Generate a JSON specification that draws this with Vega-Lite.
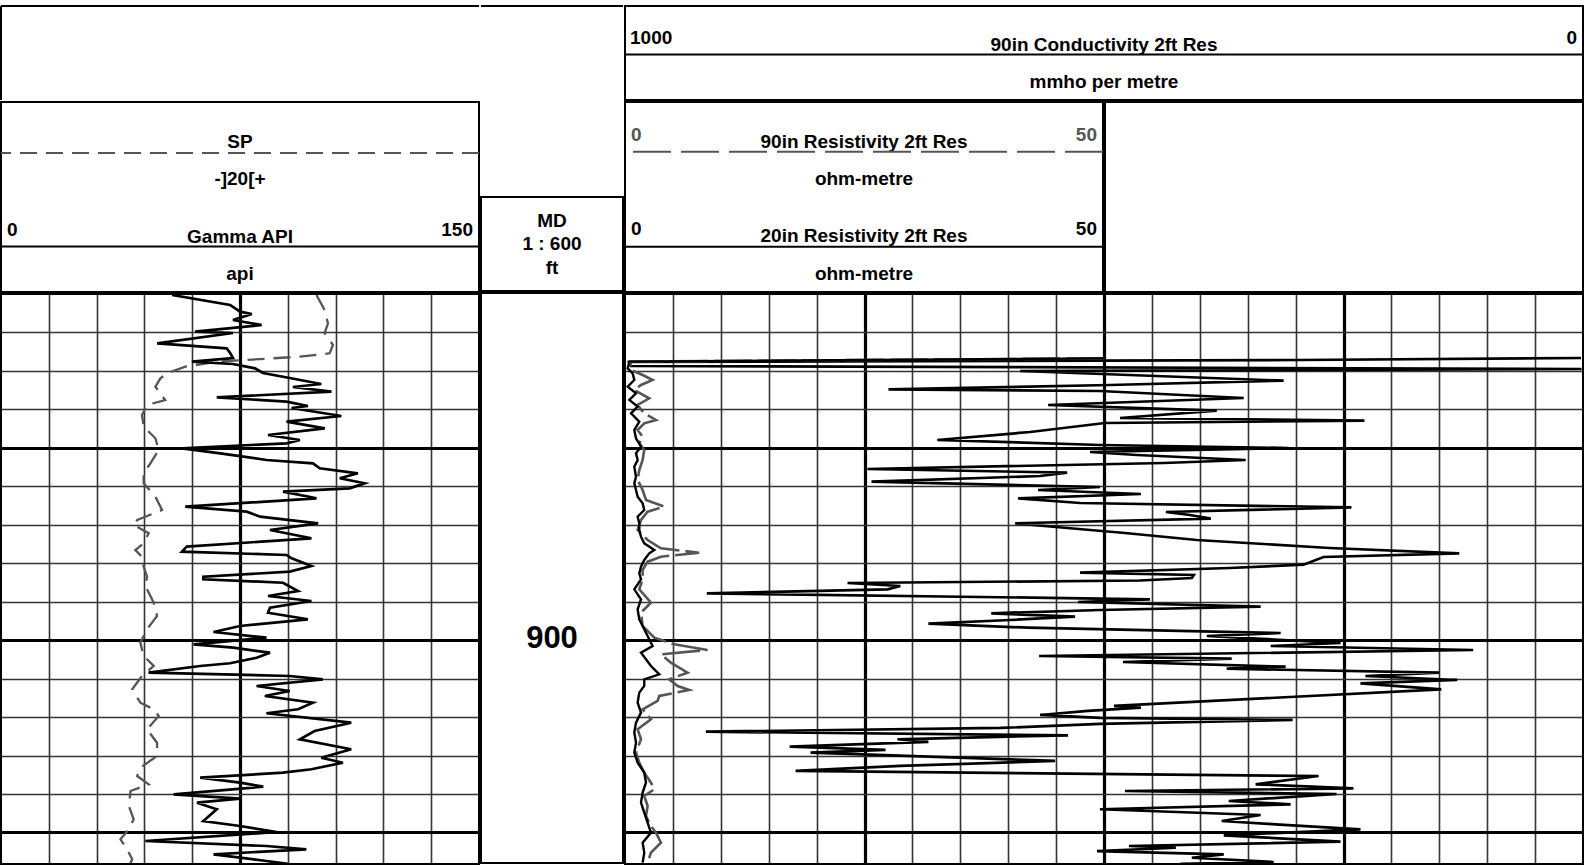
{
"$schema": "https://vega.github.io/schema/vega-lite/v6.json",
"padding": {"left": 0, "top": 5, "right": 0, "bottom": 0},
"spacing": 0,
"config": {
  "view": {"stroke": null},
  "concat": {"spacing": 0},
  "text": {"font": "Liberation Sans", "fontWeight": "bold", "fontSize": 19, "color": "black"},
  "axis": {"minExtent": 0, "labels": false, "ticks": false, "domain": false, "title": null}
},
"datasets": {
"gr": [{"d":810.26,"v":53.7},{"d":812.86,"v":71.9},{"d":814.6,"v":75},{"d":815.2,"v":78.7},{"d":816.76,"v":72.8},{"d":818.06,"v":81.8},{"d":819.8,"v":60.9},{"d":820.14,"v":72.8},{"d":822.82,"v":49},{"d":824.12,"v":70.8},{"d":825.34,"v":71.9},{"d":826.64,"v":72.8},{"d":827.6,"v":59.9},{"d":828.2,"v":72.8},{"d":829.32,"v":79.7},{"d":830.54,"v":82.2},{"d":831.84,"v":90.6},{"d":833.4,"v":100.5},{"d":834.18,"v":91.6},{"d":835.4,"v":103.7},{"d":836.86,"v":67.7},{"d":838,"v":89.6},{"d":839.12,"v":96.3},{"d":839.64,"v":91.2},{"d":841.72,"v":106.8},{"d":843.2,"v":89.6},{"d":844.92,"v":101.6},{"d":846.66,"v":83.8},{"d":847.96,"v":93.8},{"d":848.82,"v":89.6},{"d":850.12,"v":56.8},{"d":851.42,"v":68.8},{"d":853.16,"v":83.3},{"d":854.02,"v":97.9},{"d":855.32,"v":100},{"d":856.62,"v":112},{"d":857.92,"v":106.3},{"d":859.22,"v":114.1},{"d":860.52,"v":109.4},{"d":861.4,"v":88.5},{"d":863.12,"v":99},{"d":865.3,"v":57.8},{"d":866.6,"v":77.1},{"d":867.9,"v":81.3},{"d":869.62,"v":99.5},{"d":871.36,"v":84.4},{"d":873.52,"v":97.4},{"d":875.7,"v":58.3},{"d":877,"v":56.8},{"d":877.86,"v":89.6},{"d":878.72,"v":91.2},{"d":880.72,"v":97.4},{"d":882.2,"v":90.6},{"d":883.5,"v":63.5},{"d":884.18,"v":63.5},{"d":885.07,"v":88.5},{"d":887.22,"v":93.2},{"d":888.52,"v":83.8},{"d":889.82,"v":97.4},{"d":891.57,"v":84.4},{"d":892.87,"v":83.8},{"d":894.58,"v":96.3},{"d":896.32,"v":75},{"d":897.88,"v":66.7},{"d":899.37,"v":83.3},{"d":901.08,"v":60.4},{"d":901.97,"v":72.9},{"d":903.27,"v":84.4},{"d":904.57,"v":80.2},{"d":906.02,"v":71.9},{"d":906.72,"v":62.5},{"d":908.47,"v":46.3},{"d":909.32,"v":90.6},{"d":910.18,"v":101},{"d":911.92,"v":80.2},{"d":913.22,"v":90.6},{"d":914.52,"v":82.8},{"d":916.27,"v":97.9},{"d":917.98,"v":93.2},{"d":919.02,"v":83.3},{"d":921.47,"v":109.9},{"d":923.63,"v":98.4},{"d":925.78,"v":93.8},{"d":928.38,"v":109.9},{"d":930.57,"v":100.5},{"d":931.87,"v":107.3},{"d":933.58,"v":97.4},{"d":934.47,"v":88.5},{"d":935.77,"v":62.5},{"d":937.07,"v":75},{"d":938.11,"v":82.3},{"d":940.09,"v":54.2},{"d":941.23,"v":75},{"d":942.27,"v":61.5},{"d":943.99,"v":67.7},{"d":947.03,"v":63.5},{"d":948.33,"v":75},{"d":949.89,"v":86.5},{"d":952.23,"v":45.3},{"d":953.53,"v":83.3},{"d":954.39,"v":95.8},{"d":955.69,"v":66.7},{"d":957.43,"v":83.3},{"d":958.2,"v":90}],
"sp": [{"d":810.26,"v":-28},{"d":814.16,"v":-24.6},{"d":817.62,"v":-23.2},{"d":820.22,"v":-24.6},{"d":823.26,"v":-21.1},{"d":825.42,"v":-22.5},{"d":826.3,"v":-35},{"d":827.6,"v":-69.7},{"d":828.9,"v":-82.9},{"d":830.62,"v":-90.5},{"d":831.92,"v":-93.3},{"d":834.1,"v":-95.4},{"d":837.56,"v":-91.3},{"d":838.86,"v":-98.9},{"d":841.46,"v":-101},{"d":844.5,"v":-100.3},{"d":847.52,"v":-95.4},{"d":850.56,"v":-94},{"d":854.02,"v":-97.5},{"d":856.62,"v":-100.3},{"d":859.22,"v":-100.3},{"d":862.7,"v":-95.4},{"d":866.16,"v":-92.6},{"d":868.76,"v":-103},{"d":870.06,"v":-104.5},{"d":872.22,"v":-98.2},{"d":874.82,"v":-100.3},{"d":876.56,"v":-103.8},{"d":878.3,"v":-101},{"d":880.9,"v":-100.3},{"d":883.5,"v":-98.9},{"d":885.92,"v":-99.6},{"d":890.26,"v":-96.1},{"d":893.72,"v":-94.7},{"d":897.18,"v":-98.9},{"d":900.67,"v":-101.7},{"d":904.12,"v":-100.3},{"d":906.72,"v":-96.1},{"d":909.32,"v":-101},{"d":912.78,"v":-105.1},{"d":916.27,"v":-101.7},{"d":917.98,"v":-96.1},{"d":919.72,"v":-94},{"d":923.19,"v":-98.9},{"d":926.67,"v":-94.7},{"d":930.12,"v":-94.7},{"d":933.17,"v":-101.7},{"d":935.33,"v":-103},{"d":937.49,"v":-98.2},{"d":939.23,"v":-105.8},{"d":943.13,"v":-106.5},{"d":946.59,"v":-104.5},{"d":949.19,"v":-106.5},{"d":951.79,"v":-110},{"d":954.39,"v":-107.2},{"d":956.99,"v":-105.1},{"d":958.2,"v":-106}],
"cond": [{"d":826.64,"v":2.1},{"d":827.16,"v":295.8},{"d":827.68,"v":995.8},{"d":828.72,"v":993.8},{"d":829.5,"v":1.5},{"d":830.02,"v":587.5},{"d":832.54,"v":312.5},{"d":833.66,"v":493.8},{"d":834.78,"v":725},{"d":835.22,"v":504.2},{"d":837.04,"v":354.2},{"d":838.86,"v":558.3},{"d":840.34,"v":382.3},{"d":842.24,"v":483.3},{"d":842.94,"v":228.1},{"d":843.54,"v":499},{"d":845.88,"v":577.1},{"d":847.96,"v":674},{"d":849.26,"v":504.2},{"d":850.04,"v":307.3},{"d":851.08,"v":514.6},{"d":851.86,"v":465.6},{"d":853.16,"v":352.1},{"d":853.94,"v":437.5},{"d":855.5,"v":746.9},{"d":856.46,"v":538.5},{"d":857.32,"v":566.7},{"d":858.8,"v":742.7},{"d":860.18,"v":504.2},{"d":860.96,"v":568.8},{"d":862,"v":461.5},{"d":863.12,"v":589.6},{"d":864.34,"v":525},{"d":865.46,"v":241.7},{"d":866.68,"v":435.4},{"d":867.46,"v":410.4},{"d":868.42,"v":388.5},{"d":869.62,"v":592.7},{"d":870.84,"v":538.5},{"d":872.14,"v":478.1},{"d":873.96,"v":403.1},{"d":876.04,"v":264.6},{"d":877.42,"v":129.2},{"d":878.38,"v":270.8},{"d":880.38,"v":291.7},{"d":881.24,"v":368.8},{"d":882.46,"v":525},{"d":883.06,"v":406.3},{"d":883.84,"v":408.3},{"d":884.49,"v":462.5},{"d":885.14,"v":767.7},{"d":885.92,"v":712.5},{"d":886.78,"v":726},{"d":887.82,"v":914.6},{"d":889.38,"v":452.1},{"d":890.08,"v":527.1},{"d":891.31,"v":336.5},{"d":892.16,"v":504.2},{"d":893.02,"v":617.7},{"d":893.9,"v":530.2},{"d":894.76,"v":597.9},{"d":895.72,"v":683.3},{"d":896.77,"v":579.2},{"d":898.14,"v":315.6},{"d":898.92,"v":392.7},{"d":900.74,"v":253.1},{"d":901.52,"v":326},{"d":902.56,"v":114.6},{"d":904.12,"v":567.7},{"d":904.83,"v":366.7},{"d":905.69,"v":480.2},{"d":906.91,"v":310.4},{"d":907.43,"v":371.9},{"d":908.47,"v":150},{"d":909.32,"v":227.1},{"d":910.36,"v":131.3},{"d":911.22,"v":232.3},{"d":912.78,"v":147.9},{"d":917.12,"v":489.6},{"d":917.57,"v":461.5},{"d":918.42,"v":516.7},{"d":919.46,"v":566.7},{"d":920.24,"v":504.2},{"d":920.76,"v":303.1},{"d":921.8,"v":504.2},{"d":922.84,"v":608.3},{"d":923.81,"v":915.6},{"d":924.74,"v":537.5},{"d":925.78,"v":715.6},{"d":926.48,"v":683.3},{"d":927.7,"v":828.1},{"d":928.56,"v":728.1},{"d":929.27,"v":806.3},{"d":931.42,"v":551},{"d":932.72,"v":712.5},{"d":934.02,"v":821.9},{"d":935.33,"v":276},{"d":937.49,"v":341.7},{"d":938.53,"v":239.6},{"d":939.23,"v":478.1},{"d":940.01,"v":257.3},{"d":941.83,"v":369.8},{"d":942.69,"v":305.2},{"d":943.98,"v":504.2},{"d":945.47,"v":336.5},{"d":947.03,"v":377.1},{"d":947.89,"v":320.8},{"d":949.19,"v":232.3},{"d":950.75,"v":375},{"d":952.41,"v":253.1},{"d":953.53,"v":474},{"d":953.98,"v":425},{"d":954.84,"v":507.3},{"d":955.69,"v":375},{"d":956.58,"v":408.3},{"d":957.7,"v":322.9},{"d":958.2,"v":420}],
"r20": [{"d":826.73,"v":50},{"d":827.59,"v":0.45},{"d":829.33,"v":0.28},{"d":830.63,"v":0.8},{"d":832.36,"v":0.97},{"d":834.09,"v":0.28},{"d":835.83,"v":1.15},{"d":837.56,"v":0.45},{"d":839.29,"v":1.32},{"d":841.03,"v":0.63},{"d":843.19,"v":1.49},{"d":845.36,"v":0.97},{"d":847.53,"v":1.15},{"d":849.7,"v":1.67},{"d":851.43,"v":1.15},{"d":853.16,"v":1.32},{"d":854.9,"v":0.97},{"d":857.5,"v":1.15},{"d":859.23,"v":0.97},{"d":860.96,"v":1.15},{"d":862.7,"v":1.32},{"d":864.43,"v":1.84},{"d":866.16,"v":2.01},{"d":867.9,"v":1.32},{"d":869.63,"v":1.49},{"d":871.36,"v":1.49},{"d":873.1,"v":1.67},{"d":874.83,"v":2.01},{"d":876.56,"v":3.06},{"d":877.43,"v":2.53},{"d":879.16,"v":2.01},{"d":880.9,"v":1.67},{"d":882.63,"v":1.49},{"d":884.19,"v":1.67},{"d":886.79,"v":0.97},{"d":889.39,"v":1.67},{"d":891.99,"v":1.32},{"d":894.59,"v":1.49},{"d":897.19,"v":2.01},{"d":899.79,"v":2.53},{"d":901.52,"v":2.88},{"d":903.25,"v":1.67},{"d":904.99,"v":2.19},{"d":906.72,"v":2.71},{"d":908.89,"v":3.58},{"d":910.19,"v":2.01},{"d":911.92,"v":2.01},{"d":913.65,"v":1.49},{"d":916.25,"v":1.32},{"d":918.85,"v":1.67},{"d":921.45,"v":1.15},{"d":924.05,"v":0.97},{"d":926.65,"v":1.15},{"d":929.25,"v":0.97},{"d":931.85,"v":1.32},{"d":934.46,"v":2.01},{"d":937.06,"v":2.19},{"d":939.66,"v":1.84},{"d":942.26,"v":1.67},{"d":944.86,"v":2.01},{"d":947.46,"v":2.36},{"d":950.06,"v":2.71},{"d":952.66,"v":1.84},{"d":955.26,"v":2.01},{"d":957.86,"v":1.84}],
"r90": [{"d":826.73,"v":50},{"d":827.59,"v":0.56},{"d":829.76,"v":0.63},{"d":831.06,"v":1.84},{"d":832.36,"v":2.88},{"d":833.66,"v":1.67},{"d":834.96,"v":0.97},{"d":837.13,"v":2.53},{"d":838.86,"v":1.32},{"d":841.03,"v":2.01},{"d":842.76,"v":3.23},{"d":843.63,"v":2.01},{"d":845.36,"v":1.32},{"d":847.09,"v":1.84},{"d":848.83,"v":1.49},{"d":850.56,"v":2.01},{"d":853.16,"v":1.84},{"d":855.76,"v":1.49},{"d":858.36,"v":1.32},{"d":860.96,"v":1.84},{"d":863.56,"v":2.19},{"d":865.3,"v":4.1},{"d":866.6,"v":2.36},{"d":868.76,"v":1.67},{"d":871.36,"v":1.32},{"d":873.96,"v":2.36},{"d":876.13,"v":3.75},{"d":877.26,"v":7.74},{"d":878.3,"v":3.75},{"d":879.6,"v":2.36},{"d":881.76,"v":1.84},{"d":884.19,"v":1.84},{"d":886.79,"v":1.49},{"d":890.25,"v":2.71},{"d":892.85,"v":1.67},{"d":896.32,"v":1.84},{"d":899.35,"v":3.06},{"d":901.09,"v":5.14},{"d":902.56,"v":8.61},{"d":903.69,"v":3.75},{"d":905.85,"v":4.79},{"d":908.45,"v":6.53},{"d":910.19,"v":4.62},{"d":911.92,"v":5.49},{"d":912.96,"v":6.7},{"d":914.52,"v":3.58},{"d":915.82,"v":3.4},{"d":917.99,"v":1.84},{"d":920.59,"v":2.71},{"d":923.19,"v":1.32},{"d":925.79,"v":1.67},{"d":929.25,"v":1.15},{"d":931.85,"v":1.49},{"d":934.46,"v":2.01},{"d":937.06,"v":2.71},{"d":938.79,"v":3.06},{"d":940.52,"v":2.01},{"d":943.12,"v":2.36},{"d":945.72,"v":2.19},{"d":948.32,"v":2.71},{"d":950.06,"v":3.23},{"d":952.66,"v":3.75},{"d":955.26,"v":2.71},{"d":957.86,"v":2.36}]
},
"hconcat": [
 {"spacing": 0, "vconcat": [
  {"width": 478, "height": 94, "data": {"values": [{}]},
   "layer": [
    {"mark": {"type": "rect", "filled": false, "color": "white", "strokeOpacity": 0, "strokeWidth": 2}, "encoding": {"x": {"datum": 0, "type": "quantitative", "scale": {"domain": [0, 1]}, "axis": null}, "x2": {"datum": 1}, "y": {"datum": 0, "type": "quantitative", "scale": {"domain": [0, 1], "reverse": true}, "axis": null}, "y2": {"datum": 1}}},
    {"mark": {"type": "rule", "strokeWidth": 2, "color": "black"}, "encoding": {"y": {"datum": 0, "type": "quantitative", "scale": {"domain": [0, 1], "reverse": true}, "axis": null}}},
    {"mark": {"type": "rule", "strokeWidth": 2, "color": "black"}, "encoding": {"x": {"datum": 0, "type": "quantitative", "scale": {"domain": [0, 1]}, "axis": null}}}
   ]},
  {"width": 478, "height": 190,
   "layer": [
    {"data": {"values": [{}]}, "mark": {"type": "rect", "filled": false, "color": "black", "strokeWidth": 2}, "encoding": {"x": {"datum": 0, "type": "quantitative", "scale": {"domain": [0, 150]}, "axis": null}, "x2": {"datum": 150}, "y": {"datum": 0, "type": "quantitative", "scale": {"domain": [0, 2], "reverse": true}, "axis": null}, "y2": {"datum": 2}}},
    {"data": {"values": [{"t": "SP"}]}, "mark": {"type": "text"}, "encoding": {"y": {"datum": 0.417, "type": "quantitative", "scale": {"domain": [0, 2], "reverse": true}, "axis": null}, "text": {"field": "t"}}},
    {"data": {"values": [{}]}, "mark": {"type": "rule", "color": "#555555", "strokeWidth": 2, "strokeDash": [17, 9]}, "encoding": {"y": {"datum": 0.538, "type": "quantitative", "scale": {"domain": [0, 2], "reverse": true}, "axis": null}}},
    {"data": {"values": [{"t": "-]20[+"}]}, "mark": {"type": "text"}, "encoding": {"y": {"datum": 0.8125, "type": "quantitative", "scale": {"domain": [0, 2], "reverse": true}, "axis": null}, "text": {"field": "t"}}},
    {"data": {"values": [{"t": "0"}]}, "mark": {"type": "text", "align": "left", "dx": 6}, "encoding": {"x": {"datum": 0, "type": "quantitative", "scale": {"domain": [0, 150]}, "axis": null}, "y": {"datum": 1.344, "type": "quantitative", "scale": {"domain": [0, 2], "reverse": true}, "axis": null}, "text": {"field": "t"}}},
    {"data": {"values": [{"t": "150"}]}, "mark": {"type": "text", "align": "right", "dx": -6}, "encoding": {"x": {"datum": 150, "type": "quantitative", "scale": {"domain": [0, 150]}, "axis": null}, "y": {"datum": 1.344, "type": "quantitative", "scale": {"domain": [0, 2], "reverse": true}, "axis": null}, "text": {"field": "t"}}},
    {"data": {"values": [{"t": "Gamma API"}]}, "mark": {"type": "text"}, "encoding": {"y": {"datum": 1.417, "type": "quantitative", "scale": {"domain": [0, 2], "reverse": true}, "axis": null}, "text": {"field": "t"}}},
    {"data": {"values": [{}]}, "mark": {"type": "rule", "color": "black", "strokeWidth": 2}, "encoding": {"y": {"datum": 1.521, "type": "quantitative", "scale": {"domain": [0, 2], "reverse": true}, "axis": null}}},
    {"data": {"values": [{"t": "api"}]}, "mark": {"type": "text"}, "encoding": {"y": {"datum": 1.8125, "type": "quantitative", "scale": {"domain": [0, 2], "reverse": true}, "axis": null}, "text": {"field": "t"}}}
   ]},
  {"width": 478, "height": 570,
   "layer": [
    {"data": {"name": "sp"}, "mark": {"type": "line", "color": "#555555", "strokeWidth": 2.3, "strokeDash": [17, 9], "clip": true},
     "encoding": {
      "x": {"field": "v", "type": "quantitative", "scale": {"domain": [-160, 40]}, "axis": null},
      "y": {"field": "d", "type": "quantitative", "scale": {"domain": [810, 958.21], "reverse": true},
            "axis": {"grid": true, "values": [820,830,840,850,860,870,880,890,900,910,920,930,940,950],
                     "gridColor": {"condition": {"test": "datum.value % 50 === 0", "value": "#000000"}, "value": "#333333"},
                     "gridWidth": {"condition": {"test": "datum.value % 50 === 0", "value": 3.2}, "value": 1.6}}},
      "order": {"field": "d", "type": "quantitative"}}},
    {"data": {"name": "gr"}, "mark": {"type": "line", "color": "black", "strokeWidth": 2.7, "clip": true},
     "encoding": {
      "x": {"field": "v", "type": "quantitative", "scale": {"domain": [0, 150]},
            "axis": {"grid": true, "values": [15,30,45,60,75,90,105,120,135],
                     "gridColor": {"condition": {"test": "datum.value === 75", "value": "#000000"}, "value": "#333333"},
                     "gridWidth": {"condition": {"test": "datum.value === 75", "value": 3.2}, "value": 1.6}}},
      "y": {"field": "d", "type": "quantitative", "scale": {"domain": [810, 958.21], "reverse": true}},
      "order": {"field": "d", "type": "quantitative"}}},
    {"data": {"values": [{}]}, "mark": {"type": "rect", "filled": false, "color": "black", "strokeWidth": 2},
     "encoding": {"x": {"datum": 0, "type": "quantitative", "scale": {"domain": [0, 150]}, "axis": null}, "x2": {"datum": 150},
                  "y": {"datum": 810, "type": "quantitative", "scale": {"domain": [810, 958.21], "reverse": true}}, "y2": {"datum": 958.21}}}
   ],
   "resolve": {"scale": {"x": "independent"}}}
 ]},
 {"spacing": 0, "vconcat": [
  {"width": 142, "height": 190, "data": {"values": [{}]},
   "layer": [
    {"mark": {"type": "rect", "filled": false, "color": "white", "strokeOpacity": 0, "strokeWidth": 2}, "encoding": {"x": {"datum": 0, "type": "quantitative", "scale": {"domain": [0, 1]}, "axis": null}, "x2": {"datum": 1}, "y": {"datum": 0, "type": "quantitative", "scale": {"domain": [0, 1], "reverse": true}, "axis": null}, "y2": {"datum": 1}}},
    {"mark": {"type": "rule", "strokeWidth": 2, "color": "black"}, "encoding": {"y": {"datum": 0, "type": "quantitative", "scale": {"domain": [0, 1], "reverse": true}, "axis": null}}}
   ]},
  {"width": 142, "height": 94,
   "layer": [
    {"data": {"values": [{}]}, "mark": {"type": "rect", "filled": false, "color": "black", "strokeWidth": 2}, "encoding": {"x": {"datum": 0, "type": "quantitative", "scale": {"domain": [0, 1]}, "axis": null}, "x2": {"datum": 1}, "y": {"datum": 0, "type": "quantitative", "scale": {"domain": [0, 1], "reverse": true}, "axis": null}, "y2": {"datum": 1}}},
    {"data": {"values": [{"t": "MD"}]}, "mark": {"type": "text"}, "encoding": {"y": {"datum": 0.255, "type": "quantitative", "scale": {"domain": [0, 1], "reverse": true}, "axis": null}, "text": {"field": "t"}}},
    {"data": {"values": [{"t": "1 : 600"}]}, "mark": {"type": "text"}, "encoding": {"y": {"datum": 0.5, "type": "quantitative", "scale": {"domain": [0, 1], "reverse": true}, "axis": null}, "text": {"field": "t"}}},
    {"data": {"values": [{"t": "ft"}]}, "mark": {"type": "text"}, "encoding": {"y": {"datum": 0.75, "type": "quantitative", "scale": {"domain": [0, 1], "reverse": true}, "axis": null}, "text": {"field": "t"}}}
   ]},
  {"width": 142, "height": 570,
   "layer": [
    {"data": {"values": [{}]}, "mark": {"type": "rect", "filled": false, "color": "black", "strokeWidth": 2},
     "encoding": {"x": {"datum": 0, "type": "quantitative", "scale": {"domain": [0, 1]}, "axis": null}, "x2": {"datum": 1},
                  "y": {"datum": 810, "type": "quantitative", "scale": {"domain": [810, 958.21], "reverse": true}, "axis": null}, "y2": {"datum": 958.21}}},
    {"data": {"values": [{"d": 900}]}, "mark": {"type": "text", "fontSize": 31},
     "encoding": {"y": {"field": "d", "type": "quantitative", "scale": {"domain": [810, 958.21], "reverse": true}, "axis": null},
                  "text": {"field": "d", "type": "quantitative", "format": "d"}}}
   ]}
 ]},
 {"spacing": 0, "vconcat": [
  {"width": 958, "height": 94,
   "layer": [
    {"data": {"values": [{}]}, "mark": {"type": "rect", "filled": false, "color": "black", "strokeWidth": 2}, "encoding": {"x": {"datum": 0, "type": "quantitative", "scale": {"domain": [0, 1000], "reverse": true}, "axis": null}, "x2": {"datum": 1000}, "y": {"datum": 0, "type": "quantitative", "scale": {"domain": [0, 1], "reverse": true}, "axis": null}, "y2": {"datum": 1}}},
    {"data": {"values": [{"t": "1000"}]}, "mark": {"type": "text", "align": "left", "dx": 5}, "encoding": {"x": {"datum": 1000, "type": "quantitative", "scale": {"domain": [0, 1000], "reverse": true}, "axis": null}, "y": {"datum": 0.344, "type": "quantitative", "scale": {"domain": [0, 1], "reverse": true}, "axis": null}, "text": {"field": "t"}}},
    {"data": {"values": [{"t": "0"}]}, "mark": {"type": "text", "align": "right", "dx": -6}, "encoding": {"x": {"datum": 0, "type": "quantitative", "scale": {"domain": [0, 1000], "reverse": true}, "axis": null}, "y": {"datum": 0.344, "type": "quantitative", "scale": {"domain": [0, 1], "reverse": true}, "axis": null}, "text": {"field": "t"}}},
    {"data": {"values": [{"t": "90in Conductivity 2ft Res"}]}, "mark": {"type": "text"}, "encoding": {"y": {"datum": 0.417, "type": "quantitative", "scale": {"domain": [0, 1], "reverse": true}, "axis": null}, "text": {"field": "t"}}},
    {"data": {"values": [{}]}, "mark": {"type": "rule", "color": "black", "strokeWidth": 2}, "encoding": {"y": {"datum": 0.516, "type": "quantitative", "scale": {"domain": [0, 1], "reverse": true}, "axis": null}}},
    {"data": {"values": [{"t": "mmho per metre"}]}, "mark": {"type": "text"}, "encoding": {"y": {"datum": 0.8125, "type": "quantitative", "scale": {"domain": [0, 1], "reverse": true}, "axis": null}, "text": {"field": "t"}}}
   ]},
  {"spacing": 0, "hconcat": [
   {"width": 478, "height": 190,
    "layer": [
     {"data": {"values": [{}]}, "mark": {"type": "rect", "filled": false, "color": "black", "strokeWidth": 2}, "encoding": {"x": {"datum": 0, "type": "quantitative", "scale": {"domain": [0, 50]}, "axis": null}, "x2": {"datum": 50}, "y": {"datum": 0, "type": "quantitative", "scale": {"domain": [0, 2], "reverse": true}, "axis": null}, "y2": {"datum": 2}}},
     {"data": {"values": [{"t": "0"}]}, "mark": {"type": "text", "align": "left", "dx": 6, "color": "#555555"}, "encoding": {"x": {"datum": 0, "type": "quantitative", "scale": {"domain": [0, 50]}, "axis": null}, "y": {"datum": 0.344, "type": "quantitative", "scale": {"domain": [0, 2], "reverse": true}, "axis": null}, "text": {"field": "t"}}},
     {"data": {"values": [{"t": "50"}]}, "mark": {"type": "text", "align": "right", "dx": -6, "color": "#555555"}, "encoding": {"x": {"datum": 50, "type": "quantitative", "scale": {"domain": [0, 50]}, "axis": null}, "y": {"datum": 0.344, "type": "quantitative", "scale": {"domain": [0, 2], "reverse": true}, "axis": null}, "text": {"field": "t"}}},
     {"data": {"values": [{"t": "90in Resistivity 2ft Res"}]}, "mark": {"type": "text"}, "encoding": {"y": {"datum": 0.417, "type": "quantitative", "scale": {"domain": [0, 2], "reverse": true}, "axis": null}, "text": {"field": "t"}}},
     {"data": {"values": [{}]}, "mark": {"type": "rule", "color": "#555555", "strokeWidth": 2, "strokeDash": [38, 10]}, "encoding": {"y": {"datum": 0.524, "type": "quantitative", "scale": {"domain": [0, 2], "reverse": true}, "axis": null}}},
     {"data": {"values": [{"t": "ohm-metre"}]}, "mark": {"type": "text"}, "encoding": {"y": {"datum": 0.8125, "type": "quantitative", "scale": {"domain": [0, 2], "reverse": true}, "axis": null}, "text": {"field": "t"}}},
     {"data": {"values": [{"t": "0"}]}, "mark": {"type": "text", "align": "left", "dx": 6}, "encoding": {"x": {"datum": 0, "type": "quantitative", "scale": {"domain": [0, 50]}, "axis": null}, "y": {"datum": 1.34, "type": "quantitative", "scale": {"domain": [0, 2], "reverse": true}, "axis": null}, "text": {"field": "t"}}},
     {"data": {"values": [{"t": "50"}]}, "mark": {"type": "text", "align": "right", "dx": -6}, "encoding": {"x": {"datum": 50, "type": "quantitative", "scale": {"domain": [0, 50]}, "axis": null}, "y": {"datum": 1.34, "type": "quantitative", "scale": {"domain": [0, 2], "reverse": true}, "axis": null}, "text": {"field": "t"}}},
     {"data": {"values": [{"t": "20in Resistivity 2ft Res"}]}, "mark": {"type": "text"}, "encoding": {"y": {"datum": 1.41, "type": "quantitative", "scale": {"domain": [0, 2], "reverse": true}, "axis": null}, "text": {"field": "t"}}},
     {"data": {"values": [{}]}, "mark": {"type": "rule", "color": "black", "strokeWidth": 2}, "encoding": {"y": {"datum": 1.524, "type": "quantitative", "scale": {"domain": [0, 2], "reverse": true}, "axis": null}}},
     {"data": {"values": [{"t": "ohm-metre"}]}, "mark": {"type": "text"}, "encoding": {"y": {"datum": 1.8125, "type": "quantitative", "scale": {"domain": [0, 2], "reverse": true}, "axis": null}, "text": {"field": "t"}}}
    ]},
   {"width": 478, "height": 190, "data": {"values": [{}]},
    "mark": {"type": "rect", "filled": false, "color": "black", "strokeWidth": 2},
    "encoding": {"x": {"datum": 0, "type": "quantitative", "scale": {"domain": [0, 1]}, "axis": null}, "x2": {"datum": 1}, "y": {"datum": 0, "type": "quantitative", "scale": {"domain": [0, 1]}, "axis": null}, "y2": {"datum": 1}}}
  ]},
  {"width": 958, "height": 570,
   "layer": [
    {"data": {"name": "cond"}, "mark": {"type": "line", "color": "black", "strokeWidth": 2.7, "clip": true},
     "encoding": {
      "x": {"field": "v", "type": "quantitative", "scale": {"domain": [0, 1000], "reverse": true},
            "axis": {"grid": true, "values": [50,100,150,200,250,300,350,400,450,500,550,600,650,700,750,800,850,900,950],
                     "gridColor": {"condition": {"test": "datum.value % 250 === 0", "value": "#000000"}, "value": "#333333"},
                     "gridWidth": {"condition": {"test": "datum.value % 250 === 0", "value": 3.2}, "value": 1.6}}},
      "y": {"field": "d", "type": "quantitative", "scale": {"domain": [810, 958.21], "reverse": true},
            "axis": {"grid": true, "values": [820,830,840,850,860,870,880,890,900,910,920,930,940,950],
                     "gridColor": {"condition": {"test": "datum.value % 50 === 0", "value": "#000000"}, "value": "#333333"},
                     "gridWidth": {"condition": {"test": "datum.value % 50 === 0", "value": 3.2}, "value": 1.6}}},
      "order": {"field": "d", "type": "quantitative"}}},
    {"data": {"name": "r90"}, "mark": {"type": "line", "color": "#555555", "strokeWidth": 2.6, "strokeDash": [38, 6], "clip": true},
     "encoding": {
      "x": {"field": "v", "type": "quantitative", "scale": {"domain": [0, 100]}, "axis": null},
      "y": {"field": "d", "type": "quantitative", "scale": {"domain": [810, 958.21], "reverse": true}},
      "order": {"field": "d", "type": "quantitative"}}},
    {"data": {"name": "r20"}, "mark": {"type": "line", "color": "black", "strokeWidth": 2.4, "clip": true},
     "encoding": {
      "x": {"field": "v", "type": "quantitative", "scale": {"domain": [0, 100]}, "axis": null},
      "y": {"field": "d", "type": "quantitative", "scale": {"domain": [810, 958.21], "reverse": true}},
      "order": {"field": "d", "type": "quantitative"}}},
    {"data": {"values": [{}]}, "mark": {"type": "rect", "filled": false, "color": "black", "strokeWidth": 2},
     "encoding": {"x": {"datum": 0, "type": "quantitative", "scale": {"domain": [0, 1]}, "axis": null}, "x2": {"datum": 1},
                  "y": {"datum": 810, "type": "quantitative", "scale": {"domain": [810, 958.21], "reverse": true}}, "y2": {"datum": 958.21}}}
   ],
   "resolve": {"scale": {"x": "independent"}}}
 ]}
]
}
